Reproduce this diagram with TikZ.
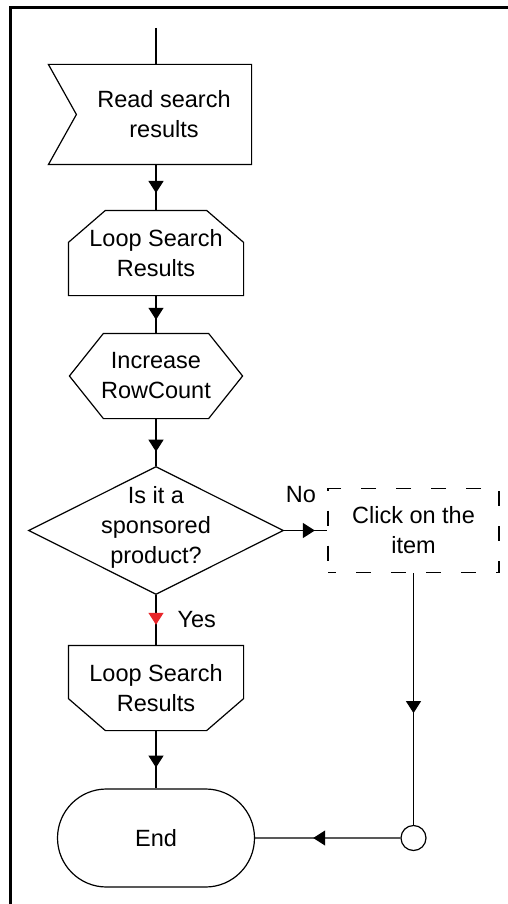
\documentclass[tikz,border=0pt]{standalone}
\usepackage{fontspec}
\setmainfont{Liberation Sans}
\usepackage{xcolor}
\usetikzlibrary{arrows.meta,positioning,calc,shapes.geometric,shapes.misc,decorations.markings}
\definecolor{yesred}{HTML}{E8262A}

\begin{document}
\begin{tikzpicture}[
    x=1pt, y=-1pt, line width=1.2pt,
    every node/.style={font=\fontsize{23.5}{30}\selectfont, inner sep=0pt},
    txtbox/.style={align=center, minimum width=#1},
    dashbox/.style={draw, dash pattern=on 15pt off 20pt, dash phase=7pt,
                    align=center, minimum width=171pt, minimum height=84pt},
    flow/.style={postaction={decorate}, decoration={markings,
                 mark=at position #1 with {\arrow{Triangle[length=12pt,width=15pt]}}}},
    yesflow/.style={postaction={decorate}, decoration={markings,
                 mark=at position #1 with {\arrow[yesred]{Triangle[length=12pt,width=15pt]}}}}
]
\useasboundingbox (0,0) rectangle (508,904);

% ── Frame ─────────────────────────────────────────────────────────────────
\draw[line width=3pt] (10,904) -- (10,7.5) -- (508,7.5);

% ── Read search results ───────────────────────────────────────────────────
\coordinate (top) at (156,28);
\node[txtbox=174pt, minimum height=99pt] (read) at (164,114.5) {Read search\\results};
\draw (read.north east) -- (read.south east) -- ([xshift=-28pt]read.south west)
      -- (read.west) -- ([xshift=-28pt]read.north west) -- cycle;

% ── Loop start ────────────────────────────────────────────────────────────
\node[txtbox=174pt, minimum height=84pt] (loop1) at (156,253) {Loop Search\\Results};
\draw ([xshift=37pt]loop1.north west) -- ([xshift=-37pt]loop1.north east)
      -- ([yshift=-32pt]loop1.north east) -- (loop1.south east)
      -- (loop1.south west) -- ([yshift=-32pt]loop1.north west) -- cycle;

% ── Increase RowCount ─────────────────────────────────────────────────────
\node[txtbox=172pt, minimum height=84pt] (rowcnt) at (156,376) {Increase\\RowCount};
\draw ([xshift=34pt]rowcnt.north west) -- ([xshift=-34pt]rowcnt.north east)
      -- (rowcnt.east) -- ([xshift=-34pt]rowcnt.south east)
      -- ([xshift=34pt]rowcnt.south west) -- (rowcnt.west) -- cycle;

% ── Decision ──────────────────────────────────────────────────────────────
\node[diamond, draw, minimum width=255pt, minimum height=128pt,
      label={[align=center, yshift=3pt]center:Is it a\\sponsored\\product?}]
      (dec) at (156,530.5) {};

% ── Click on the item ─────────────────────────────────────────────────────
\node[dashbox] (click) at (413.5,530.5) {Click on the\\item};

% ── Loop end ──────────────────────────────────────────────────────────────
\node[txtbox=174pt, minimum height=84pt] (loop2) at (156,688) {Loop Search\\Results};
\draw (loop2.north west) -- (loop2.north east) -- ([yshift=32pt]loop2.south east)
      -- ([xshift=-37pt]loop2.south east) -- ([xshift=37pt]loop2.south west)
      -- ([yshift=32pt]loop2.south west) -- cycle;

% ── End + join ────────────────────────────────────────────────────────────
\node[rounded rectangle, draw, minimum width=197pt, minimum height=98pt] (endn) at (156,838) {End};
\node[circle, draw, minimum size=25pt] (join) at (413.5,838) {};

% ── Connectors ────────────────────────────────────────────────────────────
\draw (top) -- (top |- read.north);
\draw[flow=0.62] (loop1.north |- read.south) -- (loop1.north);
\draw[flow=0.64] (loop1) -- (rowcnt);
\draw[flow=0.70] (rowcnt) -- (dec);
\draw[flow=0.71] (dec) -- node[pos=0.39, above=27.5pt] {No} (click);
\draw[yesflow=0.59] (dec) -- node[pos=0.48, right=21pt] {Yes} (loop2);
\draw[flow=0.64] (loop2) -- (endn);
\draw[flow=0.556] (click) -- (join);
\draw[flow=0.6] (join) -- (endn);

\end{tikzpicture}
\end{document}
